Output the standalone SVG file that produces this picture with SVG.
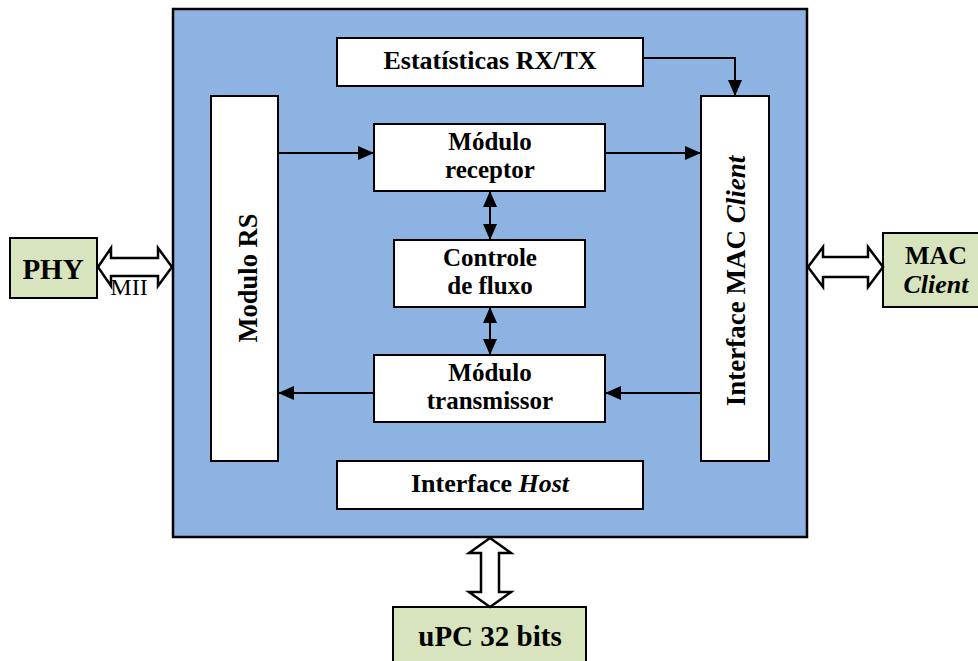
<svg xmlns="http://www.w3.org/2000/svg" width="978" height="661" viewBox="0 0 978 661">
<style>
.box{fill:#fff;stroke:#000;stroke-width:2}
.ext{fill:#d7e4bd;stroke:#000;stroke-width:2}
.t{font-family:"Liberation Serif","Times New Roman",serif;font-weight:bold;fill:#000;text-anchor:middle}
.ln{stroke:#000;stroke-width:2;fill:none}
.big{fill:#fff;stroke:#000;stroke-width:2.5}
</style>
<defs>
<marker id="ah2" markerWidth="16" markerHeight="14" refX="15" refY="7" orient="auto-start-reverse" markerUnits="userSpaceOnUse"><path d="M0,0 L16,7 L0,14 z" fill="#000"/></marker>
</defs>
<rect id="main" x="173" y="9" width="634" height="528" fill="#8db3e2" stroke="#000" stroke-width="2.5"/>
<g id="estat"><rect class="box" x="337" y="38" width="306" height="48"/><text class="t" x="490" y="69" font-size="26">Estatísticas RX/TX</text></g>
<g id="rs"><rect class="box" x="211" y="96" width="67" height="365"/><text class="t" x="0" y="0" font-size="26.5" transform="translate(257,278) rotate(-90)">Modulo RS</text></g>
<g id="macif"><rect class="box" x="701" y="96" width="68" height="365"/><text class="t" x="0" y="0" font-size="27" transform="translate(745,281) rotate(-90)">Interface MAC <tspan font-style="italic">Client</tspan></text></g>
<g id="rx"><rect class="box" x="374" y="124" width="231" height="67"/><text class="t" font-size="25"><tspan x="490" y="150">Módulo</tspan><tspan x="490" y="178">receptor</tspan></text></g>
<g id="fc"><rect class="box" x="394" y="240" width="191" height="67"/><text class="t" font-size="25"><tspan x="490" y="266">Controle</tspan><tspan x="490" y="294">de fluxo</tspan></text></g>
<g id="tx"><rect class="box" x="374" y="355" width="231" height="67"/><text class="t" font-size="25"><tspan x="490" y="381">Módulo</tspan><tspan x="490" y="409">transmissor</tspan></text></g>
<g id="host"><rect class="box" x="337" y="461" width="306" height="48"/><text class="t" x="490" y="492" font-size="26">Interface <tspan font-style="italic">Host</tspan></text></g>
<g id="phy"><rect class="ext" x="10" y="238" width="87" height="60"/><text class="t" x="53" y="279" font-size="29">PHY</text></g>
<g id="macc"><rect class="ext" x="883" y="233" width="100" height="74"/><text class="t" font-size="26"><tspan x="936" y="264">MAC</tspan><tspan x="936" y="293" font-style="italic">Client</tspan></text></g>
<g id="upc"><rect class="ext" x="393" y="607" width="193" height="60"/><text class="t" x="490" y="646" font-size="29">uPC 32 bits</text></g>
<g id="connectors">
<line class="ln" x1="278" y1="153" x2="373" y2="153" marker-end="url(#ah2)"/>
<line class="ln" x1="605" y1="153" x2="700" y2="153" marker-end="url(#ah2)"/>
<line class="ln" x1="701" y1="393" x2="606" y2="393" marker-end="url(#ah2)"/>
<line class="ln" x1="374" y1="393" x2="279" y2="393" marker-end="url(#ah2)"/>
<polyline class="ln" points="643,58 735,58 735,95" marker-end="url(#ah2)"/>
<line class="ln" x1="490" y1="192" x2="490" y2="239" marker-start="url(#ah2)" marker-end="url(#ah2)"/>
<line class="ln" x1="490" y1="308" x2="490" y2="354" marker-start="url(#ah2)" marker-end="url(#ah2)"/>
<path class="big" d="M98,267 L111,248 L111,258 L158,258 L158,248 L172,267 L158,286 L158,276 L111,276 L111,286 Z"/>
<path class="big" d="M808,267 L823,247 L823,257 L868,257 L868,247 L883,267 L868,287 L868,277 L823,277 L823,287 Z"/>
<path class="big" d="M490,538 L511,553 L499,553 L499,592 L511,592 L490,607 L469,592 L481,592 L481,553 L469,553 Z"/>
</g>
<text x="129" y="295" font-family="Liberation Serif,serif" font-size="24" text-anchor="middle">MII</text>
</svg>
